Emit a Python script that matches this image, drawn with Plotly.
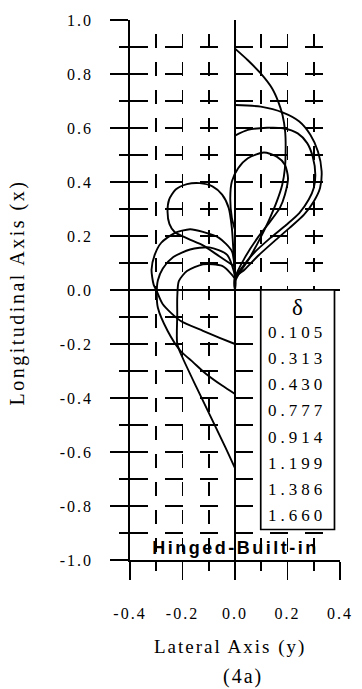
import plotly.graph_objects as go

# ---------------------------------------------------------------------------
# Deflected shapes of a hinged / built-in strut, one curve per end-shortening
# value delta.  Lateral coordinate (y) runs horizontally, longitudinal (x)
# vertically.  Each list starts at the built-in end (origin).
# ---------------------------------------------------------------------------
delta_labels = ["0.105", "0.313", "0.430", "0.777", "0.914", "1.199", "1.386", "1.660"]

lat_0105 = [0, 0, 0.015, 0.05, 0.09, 0.13, 0.16, 0.18, 0.19, 0.193, 0.191, 0.181, 0.165, 0.141, 0.098, 0.049, 0]
lon_0105 = [0, 0.03, 0.06, 0.11, 0.18, 0.26, 0.33, 0.39, 0.45, 0.525, 0.587, 0.648, 0.697, 0.747, 0.802, 0.851, 0.894]

lat_0313 = [0, 0, 0.037, 0.086, 0.15, 0.208, 0.263, 0.3, 0.324, 0.33, 0.316, 0.287, 0.245, 0.183, 0.098, 0]
lon_0313 = [0, 0.045, 0.076, 0.125, 0.181, 0.23, 0.279, 0.328, 0.378, 0.44, 0.513, 0.575, 0.624, 0.657, 0.679, 0.685]

lat_0430 = [0, 0, 0.031, 0.073, 0.135, 0.196, 0.245, 0.281, 0.3, 0.306, 0.296, 0.275, 0.239, 0.183, 0.122, 0.049, 0]
lon_0430 = [0, 0.045, 0.089, 0.138, 0.193, 0.242, 0.285, 0.335, 0.378, 0.427, 0.494, 0.544, 0.58, 0.599, 0.601, 0.593, 0.572]

lat_0777 = [0, 0, 0.037, 0.086, 0.135, 0.171, 0.19, 0.202, 0.19, 0.159, 0.11, 0.049, 0.012, -0.012, -0.018, -0.012, 0]
lon_0777 = [0, 0.045, 0.119, 0.193, 0.255, 0.304, 0.353, 0.414, 0.464, 0.494, 0.509, 0.488, 0.451, 0.402, 0.34, 0.267, 0.223]

lat_0914 = [0, 0, -0.006, -0.012, -0.024, -0.049, -0.086, -0.135, -0.183, -0.226, -0.251, -0.257, -0.25, -0.23, -0.18, -0.122, -0.06, 0]
lon_0914 = [0, 0.045, 0.144, 0.23, 0.304, 0.353, 0.384, 0.396, 0.392, 0.372, 0.335, 0.29, 0.245, 0.215, 0.19, 0.165, 0.125, 0.086]

lat_1199 = [0, 0, -0.012, -0.061, -0.122, -0.171, -0.232, -0.281, -0.306, -0.318, -0.31, -0.3, -0.275, -0.208, -0.122, -0.061, 0]
lon_1199 = [0, 0.06, 0.144, 0.193, 0.215, 0.225, 0.21, 0.175, 0.13, 0.075, 0.02, 0, -0.053, -0.114, -0.151, -0.176, -0.2]

lat_1386 = [0, 0, -0.03, -0.098, -0.171, -0.235, -0.275, -0.294, -0.298, -0.294, -0.257, -0.208, -0.159, -0.11, -0.049, 0]
lon_1386 = [0, 0.05, 0.13, 0.158, 0.15, 0.122, 0.08, 0.035, -0.01, -0.065, -0.151, -0.225, -0.268, -0.311, -0.354, -0.385]

lat_1660 = [0, 0, -0.049, -0.122, -0.183, -0.214, -0.22, -0.22, -0.22, -0.2, -0.147, -0.086, -0.037, 0]
lon_1660 = [0, 0.04, 0.089, 0.095, 0.07, 0.033, -0.028, -0.09, -0.2, -0.25, -0.36, -0.483, -0.582, -0.66]

shapes_lat = [lat_0105, lat_0313, lat_0430, lat_0777, lat_0914, lat_1199, lat_1386, lat_1660]
shapes_lon = [lon_0105, lon_0313, lon_0430, lon_0777, lon_0914, lon_1199, lon_1386, lon_1660]

# axis ticks
x_tick_vals = [-0.4, -0.2, 0.0, 0.2, 0.4]
x_tick_text = ["-0.4", "-0.2", "0.0", "0.2", "0.4"]
y_tick_vals = [1.0, 0.8, 0.6, 0.4, 0.2, 0.0, -0.2, -0.4, -0.6, -0.8, -1.0]
y_tick_text = ["1.0", "0.8", "0.6", "0.4", "0.2", "0.0", "-0.2", "-0.4", "-0.6", "-0.8", "-1.0"]

# ---------------------------------------------------------------------------
W, H = 362, 689
ML, MR, MT, MB = 130, 14, 18, 129
SERIF = "Liberation Serif, Times New Roman, Times, serif"
SANS = "Liberation Sans, Arial, Helvetica, sans-serif"
INK = "black"
LW = 1.7


def px_to_paper(px, py):
    """Convert a page pixel position to paper coordinates."""
    return (px - ML) / (W - ML - MR), (H - MB - py) / (H - MT - MB)


fig = go.Figure()
for lat, lon, lab in zip(shapes_lat, shapes_lon, delta_labels):
    fig.add_trace(go.Scatter(
        x=lat, y=lon, mode="lines", name=lab,
        line=dict(color=INK, width=1.9, shape="spline", smoothing=0.7),
        hoverinfo="skip", showlegend=False,
    ))

axis_common = dict(
    showline=True, linecolor=INK, linewidth=LW,
    ticks="outside", ticklen=18, tickwidth=LW, tickcolor=INK,
    showgrid=True, gridcolor=INK, gridwidth=LW,
    zeroline=True, zerolinecolor=INK, zerolinewidth=LW,
    tickfont=dict(family=SERIF, size=16, color=INK),
    tickmode="array", fixedrange=True,
)

x_dash = "0px,14px,14px,0px"
y_dash = "18px,17px"

fig.update_xaxes(
    **axis_common, range=[-0.4, 0.4], tickvals=x_tick_vals, ticktext=x_tick_text,
    griddash=x_dash, ticklabelstandoff=20,
    minor=dict(dtick=0.1, tick0=0, ticks="outside", ticklen=9, tickwidth=LW, tickcolor=INK,
               showgrid=True, gridcolor=INK, gridwidth=LW, griddash=x_dash),
)
fig.update_yaxes(
    **axis_common, range=[-1.0, 1.0], tickvals=y_tick_vals, ticktext=y_tick_text,
    griddash=y_dash, ticklabelstandoff=14,
    minor=dict(dtick=0.1, tick0=0, ticks="outside", ticklen=9, tickwidth=LW, tickcolor=INK,
               showgrid=True, gridcolor=INK, gridwidth=LW, griddash=y_dash),
)

# key box listing the delta values
fig.add_shape(type="rect", xref="x", yref="y", x0=0.098, x1=0.379, y0=-0.887, y1=0.0,
              line=dict(color=INK, width=LW), fillcolor="white", layer="above")

ann = []
ann.append(dict(x=0.237, y=-0.065, xref="x", yref="y", text="δ", showarrow=False,
                font=dict(family=SERIF, size=23, color=INK), xanchor="center", yanchor="middle"))
for i, lab in enumerate(delta_labels):
    ann.append(dict(x=0.237, y=-0.158 - 0.0967 * i, xref="x", yref="y", text=lab, showarrow=False,
                    font=dict(family=SERIF, size=17, color=INK), xanchor="center", yanchor="middle"))

ann.append(dict(x=0.0, y=-0.955, xref="x", yref="y", text="<b>Hinged-Built-in</b>", showarrow=False,
                font=dict(family=SANS, size=18, color=INK), xanchor="center", yanchor="middle"))

px, py = px_to_paper(234, 647)
ann.append(dict(x=px, y=py, xref="paper", yref="paper", text="Lateral Axis (y)", showarrow=False,
                font=dict(family=SERIF, size=19, color=INK), xanchor="center", yanchor="middle"))
px, py = px_to_paper(247, 677)
ann.append(dict(x=px, y=py, xref="paper", yref="paper", text="(4a)", showarrow=False,
                font=dict(family=SERIF, size=20, color=INK), xanchor="center", yanchor="middle"))
px, py = px_to_paper(14, 292)
ann.append(dict(x=px, y=py, xref="paper", yref="paper", text="Longitudinal Axis (x)", showarrow=False,
                textangle=-90, font=dict(family=SERIF, size=20, color=INK),
                xanchor="center", yanchor="middle"))

fig.update_layout(
    width=W, height=H, margin=dict(l=ML, r=MR, t=MT, b=MB, pad=0),
    paper_bgcolor="white", plot_bgcolor="white",
    annotations=ann, showlegend=False,
)

# loose letter spacing for the serif labels
spacing_js = """
var gd = document.getElementById('{plot_id}');
gd.querySelectorAll('text').forEach(function (t) {
    var s = t.textContent.trim();
    var ls = '2px';
    if (/^[01]\\.\\d{3}$/.test(s)) { ls = '4px'; }
    if (s === 'Hinged-Built-in') { ls = '2.5px'; }
    if (s === 'Longitudinal Axis (x)') { ls = '2.5px'; }
    if (s === 'δ') { ls = '0px'; }
    t.style.letterSpacing = ls;
});
"""

fig.write_html("out.html", config={"displayModeBar": False, "staticPlot": True},
               post_script=spacing_js)
